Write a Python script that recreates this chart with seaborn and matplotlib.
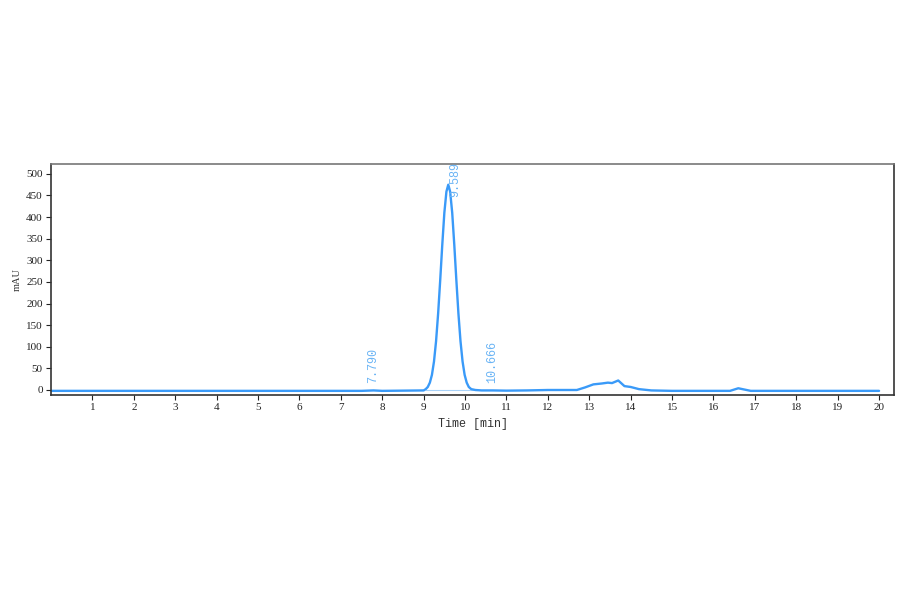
import matplotlib
matplotlib.use("Agg")
import matplotlib.pyplot as plt
import seaborn as sns
import pandas as pd

sns.set_theme(style="white")
plt.rcParams['font.family'] = ['Liberation Serif', 'DejaVu Serif']

time_min = [0.0, 7.5, 7.79, 8.0, 8.5, 9.0, 9.05, 9.1, 9.15, 9.2, 9.25, 9.3, 9.35, 9.4,
            9.45, 9.5, 9.55, 9.595, 9.64, 9.69, 9.74, 9.79, 9.84, 9.89, 9.94, 9.99,
            10.04, 10.09, 10.15, 10.25, 10.4, 10.666, 11.0, 11.5, 12.0, 12.5, 12.7,
            12.9, 13.1, 13.3, 13.45, 13.55, 13.7, 13.85, 14.0, 14.2, 14.5, 15.0, 16.4,
            16.6, 16.75, 16.9, 20.0]
mau = [-2, -2, -1, -2, -1.5, -1, 2, 7, 17, 35, 66, 113, 177, 254,
       336, 410, 459, 475, 459, 410, 336, 254, 177, 113, 66, 35,
       17, 7, 2, 0, -1, -1, -1.5, -1, 0, 0, 0,
       6, 13, 15, 17, 16, 22, 9, 7, 2, -1, -2, -2,
       4, 1, -2, -2]

base_t = [9.05, 10.3]
base_v = [-1, -1]

peak_labels = ["7.790", "9.589", "10.666"]
label_x = [7.79, 9.77, 10.66]
label_y = [16, 447, 16]

xticks = list(range(1, 21))
yticks = list(range(0, 501, 50))

df = pd.DataFrame({"Time [min]": time_min, "mAU": mau})
df_base = pd.DataFrame({"Time [min]": base_t, "mAU": base_v})

fig = plt.figure(figsize=(9, 5.94), dpi=100)
ax = fig.add_axes([0.0567, 0.335, 0.9366, 0.389])
sns.lineplot(data=df_base, x="Time [min]", y="mAU", ax=ax, color="#A9D2F8", linewidth=0.8)
sns.lineplot(data=df, x="Time [min]", y="mAU", ax=ax, color="#3A9AF8", linewidth=1.7)

for lx, ly, lab in zip(label_x, label_y, peak_labels):
    ax.text(lx, ly, lab, rotation=90, ha="center", va="bottom", fontsize=8.5,
            color="#6AB4F5", family=["Liberation Mono", "DejaVu Sans Mono"])

ax.set_xlim(0, 20.36)
ax.set_ylim(-11.6, 523)
ax.set_xticks(xticks)
ax.set_xticklabels([str(t) for t in xticks])
ax.set_yticks(yticks)
ax.tick_params(axis="both", direction="out", length=3.5, width=0.8, labelsize=8,
               colors="#222222", bottom=True, left=True, pad=2.5)
ax.set_xlabel("Time [min]", fontsize=8.5, labelpad=4, color="#333333",
              family=["Liberation Mono", "DejaVu Sans Mono"])
ax.set_ylabel("mAU", fontsize=7.5, labelpad=3, color="#333333")
for s in ax.spines.values():
    s.set_color("#333333")
    s.set_linewidth(1.2)
ax.spines["top"].set_color("#777777")

fig.savefig("out.png", dpi=100, facecolor="white")
